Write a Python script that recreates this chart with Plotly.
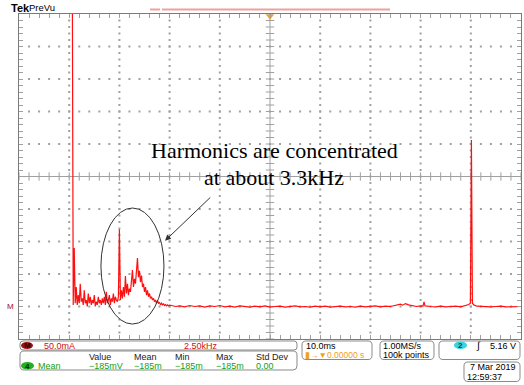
import plotly.graph_objects as go
import numpy as np

# ---------------- data (x in kHz, y in vertical divisions from bottom) ----------------
noise_x_start = 2.65   # first FFT bin shown (kHz)
noise_x_step = 0.05    # bin spacing (kHz)
noise_y = [12.0, 1.05, 2.8, 1.1, 1.6, 1.05, 1.35, 1.1, 1.7, 1.15,
           1.25, 1.05, 1.5, 1.1, 1.2, 1.0, 1.4, 1.1, 1.3, 1.05,
           1.2, 1.1, 1.35, 1.0, 1.15, 1.05, 1.3, 1.1, 1.2, 1.05,
           1.25, 1.1, 1.3, 1.05, 1.45, 1.1, 1.2, 1.35, 1.05, 1.25,
           1.15, 1.4, 1.1, 1.3, 1.2, 1.15, 1.3, 3.38, 1.2, 1.5,
           1.25, 1.6, 1.3, 1.94, 1.4, 1.7, 1.35, 1.55, 1.45, 1.8,
           2.12, 1.6, 1.85, 1.7, 2.05, 2.49, 1.9, 2.1, 1.75, 1.95,
           1.6, 1.7, 1.45, 1.6, 1.35, 1.5, 1.3, 1.4, 1.25, 1.3,
           1.2, 1.25, 1.15, 1.2, 1.1, 1.18, 1.1, 1.12, 1.05, 1.1,
           1.05, 1.08, 1.03, 1.06, 1.02, 1.05, 1.02, 1.04]
tail_x = [7.6, 7.8, 8.0, 8.25, 8.5, 8.75, 9.0, 9.25, 9.5, 9.75,
          10.0, 10.25, 10.5, 10.75, 11.0, 11.25, 11.5, 11.75, 12.0, 12.25,
          12.5, 12.75, 13.0, 13.25, 13.5, 13.75, 14.0, 14.25, 14.5, 14.75,
          15.0, 15.25, 15.5, 15.75, 16.0, 16.25, 16.5, 16.75, 17.0, 17.25,
          17.5, 17.75, 18.0, 18.25, 18.5, 18.75, 19.0, 19.1, 19.25, 19.4,
          19.6, 19.8, 20.0, 20.12, 20.17, 20.22, 20.5, 20.75, 21.0, 21.25,
          21.5, 21.75, 22.0, 22.25, 22.4, 22.48, 22.53, 22.58, 22.65, 22.8,
          23.0, 23.25, 23.5, 23.75, 24.0, 24.25, 24.5, 24.75, 25.0]
tail_y = [1.03, 1.0, 1.02, 0.99, 1.03, 1.0, 1.02, 0.98, 1.02, 1.0,
          1.03, 0.99, 1.01, 0.98, 1.02, 1.0, 0.98, 1.01, 0.99, 1.02,
          0.98, 1.0, 1.01, 0.98, 1.0, 1.02, 0.99, 1.0, 0.98, 1.01,
          0.99, 1.01, 0.98, 1.0, 1.01, 0.99, 1.0, 0.98, 1.01, 0.99,
          1.0, 1.02, 0.99, 1.01, 1.0, 1.04, 1.07, 1.04, 1.09, 1.05,
          1.02, 1.0, 1.02, 1.01, 1.14, 1.02, 1.0, 0.99, 1.01, 0.99,
          1.0, 1.01, 0.99, 1.02, 1.06, 1.1, 6.12, 1.1, 1.05, 1.01,
          1.0, 1.01, 0.99, 1.0, 1.01, 0.99, 1.0, 1.01, 1.0]

math_scale = "50.0mA"
freq_scale = "2.50kHz"
meas_name = "Mean"
meas_headers = ["Value", "Mean", "Min", "Max", "Std Dev"]
meas_values = ["\u2212185mV", "\u2212185m", "\u2212185m", "\u2212185m", "0.00"]
time_scale = "10.0ms"
time_pos = "0.00000 s"
sample_rate = "1.00MS/s"
record_len = "100k points"
trig_level = "5.16 V"
date_str = "7 Mar 2019"
time_str = "12:59:37"

noise_x = [noise_x_start + i * noise_x_step for i in range(len(noise_y))]
trace_x = noise_x + tail_x
trace_y = noise_y + tail_y

# ---------------- geometry helpers ----------------
L, T, W, H = 19, 14, 502, 325
FIG_W, FIG_H = 524, 385
GRID = "#a0a0a0"


def px(x):
    return (x - L) / W


def py(y):
    return (T + H - y) / H


def rrect(x0, y0, x1, y1, r=4):
    def P(x, y):
        return f"{px(x):.5f},{py(y):.5f}"
    d = (f"M{P(x0 + r, y0)} L{P(x1 - r, y0)} Q{P(x1, y0)} {P(x1, y0 + r)} "
         f"L{P(x1, y1 - r)} Q{P(x1, y1)} {P(x1 - r, y1)} L{P(x0 + r, y1)} "
         f"Q{P(x0, y1)} {P(x0, y1 - r)} L{P(x0, y0 + r)} Q{P(x0, y0)} {P(x0 + r, y0)} Z")
    return dict(type="path", xref="paper", yref="paper", path=d,
                line=dict(color="#8a8a8a", width=1), fillcolor="white", layer="above")


fig = go.Figure()

# graticule dotted grid (decoration)
gx, gy = [], []
for xv in [2.5, 5.0, 7.5, 10.0, 15.0, 17.5, 20.0, 22.5]:
    for yv in np.arange(0.2, 9.9, 0.2):
        gx.append(xv); gy.append(yv)
for yv in [1, 2, 3, 4, 6, 7, 8, 9]:
    for xv in np.arange(0.5, 24.9, 0.5):
        gx.append(xv); gy.append(yv)
fig.add_trace(go.Scatter(x=gx, y=gy, mode="markers",
                         marker=dict(symbol="square", size=2, color=GRID, line=dict(width=0)),
                         hoverinfo="skip"))

# graticule centre cross ticks
cx_ticks = np.arange(0, 25.001, 0.5)
cy_ticks = np.arange(0, 10.001, 0.2)
fig.add_trace(go.Scatter(x=cx_ticks, y=[5] * len(cx_ticks), mode="markers",
                         marker=dict(symbol="line-ns-open", size=6, color=GRID,
                                     line=dict(color=GRID, width=1)),
                         hoverinfo="skip"))
fig.add_trace(go.Scatter(x=[12.5] * len(cy_ticks), y=cy_ticks, mode="markers",
                         marker=dict(symbol="line-ew-open", size=6, color=GRID,
                                     line=dict(color=GRID, width=1)),
                         hoverinfo="skip"))

# spectrum trace
fig.add_trace(go.Scatter(x=trace_x, y=trace_y, mode="lines",
                         line=dict(color="#ff1010", width=1.2), hoverinfo="skip"))

shapes = []
# centre cross lines
shapes.append(dict(type="line", xref="x", yref="y", x0=12.5, x1=12.5, y0=0, y1=10,
                   line=dict(color=GRID, width=1), layer="below"))
shapes.append(dict(type="line", xref="x", yref="y", x0=0, x1=25, y0=5, y1=5,
                   line=dict(color=GRID, width=1), layer="below"))
# ellipse around harmonics
shapes.append(dict(type="circle", xref="x", yref="y", x0=4.08, x1=7.22, y0=0.46, y1=4.03,
                   line=dict(color="#333333", width=1)))
# top pink bar
shapes.append(dict(type="line", xref="paper", yref="paper", x0=px(150), x1=px(160),
                   y0=py(9.5), y1=py(9.5), line=dict(color="#eea0a0", width=2)))
shapes.append(dict(type="line", xref="paper", yref="paper", x0=px(162), x1=px(390),
                   y0=py(9.5), y1=py(9.5), line=dict(color="#eea0a0", width=2)))

# bottom panels
shapes.append(rrect(20, 341, 297, 350, 3))
shapes.append(rrect(20, 351, 297, 370, 4))
shapes.append(rrect(302, 341, 372, 359.5, 4))
shapes.append(rrect(380, 341, 434, 359.5, 4))
shapes.append(rrect(439, 341, 520, 359.5, 4))
shapes.append(rrect(464, 362, 520, 381.5, 4))
# badges
shapes.append(dict(type="circle", xref="paper", yref="paper", x0=px(21), x1=px(33),
                   y0=py(342), y1=py(349), fillcolor="#a01010", line=dict(width=0)))
shapes.append(dict(type="circle", xref="paper", yref="paper", x0=px(21), x1=px(34),
                   y0=py(362), y1=py(369.5), fillcolor="#22b022", line=dict(width=0)))
shapes.append(dict(type="circle", xref="paper", yref="paper", x0=px(454), x1=px(467),
                   y0=py(341.5), y1=py(349), fillcolor="#38d4e4", line=dict(width=0)))

ann = []


def txt(x, y, s, size=9, color="black", anchor="left", family="Liberation Sans", bold=False):
    if bold:
        s = f"<b>{s}</b>"
    ann.append(dict(x=px(x), y=py(y), xref="paper", yref="paper", text=s, showarrow=False,
                    xanchor=anchor, yanchor="middle", borderpad=0,
                    font=dict(size=size, color=color, family=family)))


# header
txt(10, 8, "Tek", size=11, bold=True)
txt(28, 8, "PreVu", size=9.5)

# orange trigger marker
fig.add_trace(go.Scatter(x=[12.5], y=[9.93], mode="markers", cliponaxis=False,
                         marker=dict(symbol="triangle-down", size=7, color="#f5a020"),
                         hoverinfo="skip"))

# main annotation text
txt(274, 150.5, "Harmonics are concentrated", size=22, anchor="center", family="Liberation Serif")
txt(274, 177.5, "at about 3.3kHz", size=22, anchor="center", family="Liberation Serif")
ann.append(dict(x=7.27, y=3.02, ax=9.6, ay=4.4, xref="x", yref="y", axref="x", ayref="y",
                showarrow=True, arrowhead=2, arrowsize=1.2, arrowwidth=1, arrowcolor="#333333",
                text=""))

# left M marker
txt(6, 306, "M", size=8, color="#a01010")

# bottom texts
red = "#cc1111"
green = "#11a011"
orange = "#f0a020"
txt(27, 345.5, "M", size=8, color="#300000", anchor="center", bold=True)
txt(43, 345.5, math_scale, color=red)
txt(183, 345.5, freq_scale, color=red)
txt(27.5, 366, "4", size=8, color="#003000", anchor="center", bold=True)
txt(37, 366, meas_name, color=green)
hx = [88, 133, 174, 215, 255]
for x, h, v in zip(hx, meas_headers, meas_values):
    txt(x, 356.5, h, color="#222222")
    txt(x, 366, v, color=green)
txt(305, 345.5, time_scale)
txt(304, 354.5, "\u25ae\u2192\u25bc" + time_pos, color=orange, size=8.5)
txt(382, 345.5, sample_rate)
txt(382, 354.5, record_len)
txt(460.5, 345.5, "2", size=8, color="#004050", anchor="center", bold=True)
txt(475, 345.5, "\u222b", size=10)
txt(517, 345.5, trig_level, anchor="right")
txt(517, 367, date_str, anchor="right")
txt(466, 376.5, time_str)

fig.update_layout(
    width=FIG_W, height=FIG_H,
    margin=dict(l=L, r=FIG_W - L - W, t=T, b=FIG_H - T - H),
    paper_bgcolor="white", plot_bgcolor="white", showlegend=False,
    shapes=shapes, annotations=ann,
    xaxis=dict(range=[0, 25], dtick=2.5, tick0=0, showticklabels=False, showgrid=False,
               zeroline=False, showline=True, linecolor="#7a7a7a", linewidth=1, mirror="allticks",
               ticks="inside", ticklen=4, tickcolor=GRID,
               minor=dict(dtick=0.5, ticks="inside", ticklen=4, tickcolor=GRID, showgrid=False),
               fixedrange=True),
    yaxis=dict(range=[0, 10], dtick=1, tick0=0, showticklabels=False, showgrid=False,
               zeroline=False, showline=True, linecolor="#7a7a7a", linewidth=1, mirror="allticks",
               ticks="inside", ticklen=4, tickcolor=GRID,
               minor=dict(dtick=0.2, ticks="inside", ticklen=4, tickcolor=GRID, showgrid=False),
               fixedrange=True),
)

fig.write_html("out.html")
